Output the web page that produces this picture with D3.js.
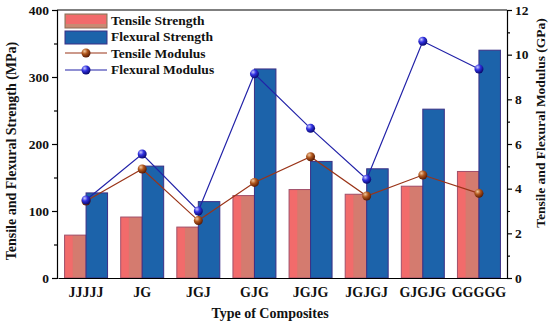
<!DOCTYPE html>
<html>
<head>
<meta charset="utf-8">
<script src="https://cdn.jsdelivr.net/npm/d3@7"></script>
<style>
body{margin:0;background:#fff}
text{font-family:"Liberation Serif","Times New Roman",serif;font-weight:bold;fill:#111}
</style>
</head>
<body>
<svg id="chart" width="550" height="326"></svg>
<script>
const categories = ["JJJJJ","JG","JGJ","GJG","JGJG","JGJGJ","GJGJG","GGGGG"];
const tensileStrength = [64,91,76,123,132,125,137,159];
const flexuralStrength = [127,167,114,312,174,163,252,340];
const tensileModulus = [3.45,4.88,2.57,4.28,5.43,3.67,4.61,3.79];
const flexuralModulus = [3.49,5.55,3.0,9.14,6.70,4.42,10.6,9.36];
const leftTicks = [0,100,200,300,400];
const rightTicks = [0,2,4,6,8,10,12];

const svg = d3.select('#chart');
const plotLeft = 58, plotRight = 507, plotTop = 10, plotBottom = 278;

const x = d3.scaleBand().domain(categories).range([plotLeft,plotRight]).padding(0);
const yL = d3.scaleLinear().domain([0,400]).range([plotBottom,plotTop]);
const yR = d3.scaleLinear().domain([0,12]).range([plotBottom,plotTop]);
const bw = x.bandwidth()*0.383;

// gradients for the sphere markers
const defs = svg.append('defs');
function sphere(id, light, mid, dark){
  const g = defs.append('radialGradient').attr('id',id).attr('cx','35%').attr('cy','30%').attr('r','70%');
  g.append('stop').attr('offset','0%').attr('stop-color',light);
  g.append('stop').attr('offset','45%').attr('stop-color',mid);
  g.append('stop').attr('offset','100%').attr('stop-color',dark);
}
sphere('ballT','#f2c9a0','#b0561c','#5a1c05');
sphere('ballF','#c8c8ff','#3030e0','#0a0a70');

// tensile strength bars (pink with brownish right part)
const tg = svg.append('g');
tg.selectAll('rect.tp').data(categories).enter().append('rect')
  .attr('x',(d)=>x(d)+x.bandwidth()/2-bw)
  .attr('y',(d,i)=>yL(tensileStrength[i]))
  .attr('width',bw)
  .attr('height',(d,i)=>plotBottom-yL(tensileStrength[i]))
  .attr('fill','#f26b6b');
tg.selectAll('rect.tb').data(categories).enter().append('rect')
  .attr('x',(d)=>x(d)+x.bandwidth()/2-bw*0.62)
  .attr('y',(d,i)=>yL(tensileStrength[i]))
  .attr('width',bw*0.62)
  .attr('height',(d,i)=>plotBottom-yL(tensileStrength[i]))
  .attr('fill','#c98070').attr('opacity',0.75);
tg.selectAll('rect.to').data(categories).enter().append('rect')
  .attr('x',(d)=>x(d)+x.bandwidth()/2-bw)
  .attr('y',(d,i)=>yL(tensileStrength[i]))
  .attr('width',bw)
  .attr('height',(d,i)=>plotBottom-yL(tensileStrength[i]))
  .attr('fill','none').attr('stroke','#a0506a').attr('stroke-width',1);

// flexural strength bars
svg.append('g').selectAll('rect').data(categories).enter().append('rect')
  .attr('x',(d)=>x(d)+x.bandwidth()/2)
  .attr('y',(d,i)=>yL(flexuralStrength[i]))
  .attr('width',bw)
  .attr('height',(d,i)=>plotBottom-yL(flexuralStrength[i]))
  .attr('fill','#1c63aa').attr('stroke','#3b2f85').attr('stroke-width',1);

// modulus lines
const cx = (d)=>x(d)+x.bandwidth()/2;
const lineT = d3.line().x((d,i)=>cx(categories[i])).y((d)=>yR(d));
svg.append('path').datum(tensileModulus).attr('d',lineT)
  .attr('fill','none').attr('stroke','#9a3418').attr('stroke-width',1.2);
svg.append('path').datum(flexuralModulus).attr('d',lineT)
  .attr('fill','none').attr('stroke','#2222a8').attr('stroke-width',1.2);
svg.append('g').selectAll('circle').data(tensileModulus).enter().append('circle')
  .attr('cx',(d,i)=>cx(categories[i])).attr('cy',(d)=>yR(d)).attr('r',4.5)
  .attr('fill','url(#ballT)');
svg.append('g').selectAll('circle').data(flexuralModulus).enter().append('circle')
  .attr('cx',(d,i)=>cx(categories[i])).attr('cy',(d)=>yR(d)).attr('r',4.5)
  .attr('fill','url(#ballF)');

// frame
svg.append('line').attr('x1',plotLeft-1).attr('x2',plotRight).attr('y1',plotTop).attr('y2',plotTop).attr('stroke','#000').attr('stroke-width',1.2);

// axes
svg.append('g').attr('transform',`translate(${plotLeft-1},0)`)
  .call(d3.axisLeft(yL).tickValues(leftTicks).tickSize(5).tickPadding(3));
svg.append('g').attr('transform',`translate(${plotLeft-1},0)`)
  .call(d3.axisLeft(yL).tickValues([50,150,250,350]).tickSize(3).tickFormat(''))
  .select('.domain').remove();
svg.append('g').attr('transform',`translate(${plotRight},0)`)
  .call(d3.axisRight(yR).tickValues(rightTicks).tickSize(5).tickPadding(3));
svg.append('g').attr('transform',`translate(${plotRight},0)`)
  .call(d3.axisRight(yR).tickValues([1,3,5,7,9,11]).tickSize(3).tickFormat(''))
  .select('.domain').remove();
const axB = svg.append('g').attr('transform',`translate(0,${plotBottom})`)
  .call(d3.axisBottom(x).tickSize(0).tickPadding(9));
svg.selectAll('.domain').attr('stroke','#000').attr('stroke-width',1.2);
svg.selectAll('.tick line').attr('stroke','#000').attr('stroke-width',1.2);
svg.selectAll('.tick text').style('font-family','"Liberation Serif",serif').style('font-weight','bold')
  .style('font-size','13.5px').attr('fill','#111');
axB.selectAll('.tick text').style('font-size','14px');

// axis titles
svg.append('text').attr('x',270).attr('y',318).attr('text-anchor','middle').style('font-size','14px').text('Type of Composites');
svg.append('text').attr('transform','translate(16,151) rotate(-90)').attr('text-anchor','middle')
  .style('font-size','14px').text('Tensile and Flexural Strength (MPa)');
svg.append('text').attr('transform','translate(545,123) rotate(-90)').attr('text-anchor','middle')
  .style('font-size','13.5px').text('Tensile and Flexural Modulus (GPa)');

// legend
const leg = svg.append('g');
leg.append('rect').attr('x',65).attr('y',14).attr('width',42).attr('height',14).attr('fill','#c98a72').attr('stroke','#8c6a55');
leg.append('rect').attr('x',66).attr('y',15).attr('width',40).attr('height',9).attr('fill','#f26b6b');
leg.append('rect').attr('x',65).attr('y',31).attr('width',42).attr('height',13).attr('fill','#1c63aa').attr('stroke','#3b2f85');
leg.append('line').attr('x1',65).attr('x2',107).attr('y1',53).attr('y2',53).attr('stroke','#9a3418').attr('stroke-width',1.2);
leg.append('circle').attr('cx',86).attr('cy',53).attr('r',4.5).attr('fill','url(#ballT)');
leg.append('line').attr('x1',65).attr('x2',107).attr('y1',70).attr('y2',70).attr('stroke','#2222a8').attr('stroke-width',1.2);
leg.append('circle').attr('cx',86).attr('cy',70).attr('r',4.5).attr('fill','url(#ballF)');
const legLabels = ['Tensile Strength','Flexural Strength','Tensile Modulus','Flexural Modulus'];
leg.selectAll('text.l').data(legLabels).enter().append('text')
  .attr('x',111).attr('y',(d,i)=>25+i*16.3).style('font-size','13.5px').text(d=>d);
</script>
</body>
</html>
